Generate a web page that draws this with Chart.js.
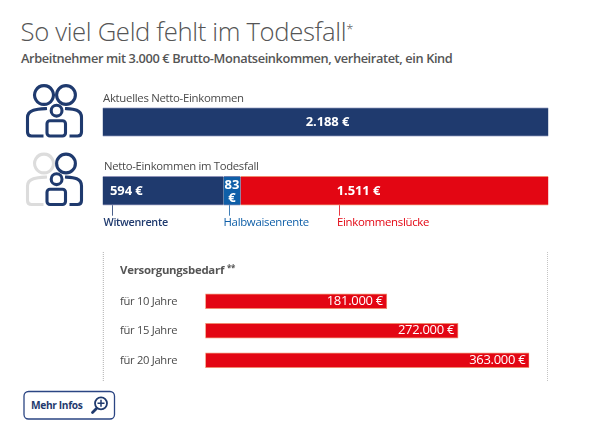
<!DOCTYPE html>
<html lang="de"><head><meta charset="utf-8">
<script src="https://cdn.jsdelivr.net/npm/chart.js@4"></script>
<style>
html,body{margin:0;padding:0;background:#fff;width:600px;height:432px;overflow:hidden}
#wrap{position:relative;width:600px;height:432px;font-family:"Open Sans",sans-serif}
canvas{position:absolute;left:0;top:0}
.t{position:absolute;white-space:nowrap;line-height:1}
svg{position:absolute;left:0;top:0}
</style></head><body>
<div id="wrap">
<div class="t" style="left:20.500px;top:18.500px;font-size:25.700px;font-weight:300;color:#555;letter-spacing:-.35px">So viel Geld fehlt im Todesfall<sup style="font-size:13px;vertical-align:7px;line-height:0">*</sup></div>
<div class="t" style="left:21px;top:51.500px;font-size:12.800px;font-weight:600;color:#555;letter-spacing:-.39px">Arbeitnehmer mit 3.000 € Brutto-Monatseinkommen, verheiratet, ein Kind</div>
<svg width="600" height="432" fill="none">
 <defs>
  <g id="kid" stroke="#1f3a6e" stroke-width="3.100">
   <circle cx="56.600" cy="110.700" r="5.400"/><rect x="47" y="120.700" width="18.500" height="15.300" rx="3"/>
   <circle cx="66" cy="95" r="9.400"/><path d="M65 108.500c8 .5 16.500 .5 16.500 9v14.500c0 2.500-1.500 4-4 4h-8"/>
  </g>
  <path id="adult" stroke-width="3.100" d="M44 85.600a9.400 9.400 0 1 0 .01 0M47 108.500c-8 .5-19.500 .5-19.500 9v14.500c0 2.500 1.500 4 4 4h12"/>
 </defs>
 <use href="#adult" stroke="#1f3a6e"/><use href="#kid"/>
 <use href="#adult" stroke="#dcdcdc" y="68.500"/><use href="#kid" y="68.500"/>
 <line x1="103.300" y1="252" x2="103.300" y2="382" stroke="#b0b0b0" stroke-dasharray="1 1"/>
 <line x1="547.500" y1="252" x2="547.500" y2="382" stroke="#c4c4c4" stroke-dasharray="1 1"/>
 <rect x="24" y="391.500" width="90.500" height="27.500" rx="4.500" stroke="#2b4583" stroke-width="1.300"/>
 <circle cx="101" cy="403.300" r="6" stroke="#1f3a6e" stroke-width="1.800"/>
 <path d="M97.500 403.300h7M101 399.800v7" stroke="#1f3a6e" stroke-width="1.500"/>
 <path d="M96.500 408.500l-4 4" stroke="#1f3a6e" stroke-width="2.800" stroke-linecap="round"/>
</svg>
<div class="t" style="left:31px;top:400px;font-size:10.200px;font-weight:700;color:#1f3a6e;letter-spacing:-.35px">Mehr Infos</div>
<canvas id="top" width="600" height="432"></canvas>
<canvas id="bottom" width="600" height="432"></canvas>
</div>
<script>
// Data
const incomeRows = ["Aktuelles Netto-Einkommen", "Netto-Einkommen im Todesfall"];
const current = [2188, null];
const widow = [null, 594];
const orphan = [null, 83];
const gap = [null, 1511];
const needLabels = ["für 10 Jahre", "für 15 Jahre", "für 20 Jahre"];
const needValues = [181000, 272000, 363000];
const needTitle = "Versorgungsbedarf";
const needTitleMark = "**";
const needAxisMin = -51000;

const font = '"Open Sans",sans-serif';
const euro = v => v.toLocaleString('de-DE') + ' €';
function txt(c, s, x, y, f, col, align, sp) {
  c.font = f + ' ' + font; c.fillStyle = col; c.textAlign = align || 'left';
  c.textBaseline = 'middle'; c.letterSpacing = (sp === undefined ? -0.3 : sp) + 'px';
  c.fillText(s, x, y);
}
const topLabels = {
  id: 'topLabels',
  afterDatasetsDraw(ch) {
    const c = ch.ctx, x = ch.scales.x, y = ch.scales.y;
    const y0 = y.getPixelForValue(0), y1 = y.getPixelForValue(1);
    const s = 'bold 13px';
    c.save();
    txt(c, incomeRows[0], x.left + .5, y0 - 23.500, '11.400px', '#4a4a4a', 'left');
    txt(c, incomeRows[1], x.left + 1.500, y1 - 23.500, '11.300px', '#4a4a4a', 'left');
    txt(c, euro(current[0]), x.getPixelForValue(current[0] / 2) + 2, y0 + .5, s, '#fff', 'center', -.1);
    txt(c, euro(widow[1]), x.left + 7.500, y1 + .5, s, '#fff', 'left', -.1);
    const oc = x.getPixelForValue(widow[1] + orphan[1] / 2);
    txt(c, String(orphan[1]), oc, y1 - 5.500, s, '#fff', 'center', 0);
    txt(c, '€', oc, y1 + 7.500, s, '#fff', 'center', 0);
    txt(c, euro(gap[1]), x.getPixelForValue(widow[1] + orphan[1] + gap[1] * .383), y1 + .5, s, '#fff', 'center', -.1);
    const ly = y1 + 32, marks = [
      [x.left + 9, '#1f3a6e', 'Witwenrente', x.left + 1, 600, 10.800],
      [oc - 3, '#0f5fa8', 'Halbwaisenrente', 223.500, 400, 11.400],
      [x.getPixelForValue(widow[1] + orphan[1] + gap[1] * .32), '#e30613', 'Einkommenslücke', 337, 400, 11.400]
    ];
    for (const [mx, col, name, tx, w, sz] of marks) {
      c.strokeStyle = col; c.lineWidth = 1; c.globalAlpha = .8;
      c.beginPath(); c.moveTo(Math.round(mx) + .5, y1 + 14.500); c.lineTo(Math.round(mx) + .5, y1 + 25); c.stroke();
      c.globalAlpha = 1;
      txt(c, name, tx, ly, w + ' ' + sz + 'px', col, 'left');
    }
    c.restore();
  }
};
const needText = {
  id: 'needText',
  afterDatasetsDraw(ch) {
    const c = ch.ctx, x = ch.scales.x, y = ch.scales.y;
    c.save();
    txt(c, needTitle, 120, 270.500, 'bold 11.400px', '#555', 'left', -.25);
    txt(c, needTitleMark, 227, 269, 'bold 8px', '#555', 'left', -.3);
    needValues.forEach((v, i) => {
      const py = y.getPixelForValue(i);
      txt(c, needLabels[i], 120, py + .5, '11.200px', '#4a4a4a', 'left');
      txt(c, euro(v), x.getPixelForValue(v) - 4, py, '13px', '#fff', 'right', -.3);
    });
    c.restore();
  }
};
const hBorder = { top: 1, bottom: 1, left: 0, right: 0 };
const seg = (label, data, bg, bc) => ({ label, data, backgroundColor: bg, borderColor: bc, borderWidth: hBorder, borderSkipped: false, categoryPercentage: 1, barThickness: 28.800 });
const quiet = { animation: false, responsive: false, devicePixelRatio: 1, events: [], indexAxis: 'y' };
new Chart(document.getElementById('top'), {
  type: 'bar',
  data: { labels: incomeRows, datasets: [
    seg('Aktuelles Netto-Einkommen', current, '#1f3a6e', '#b9bdd6'),
    seg('Witwenrente', widow, '#1f3a6e', '#8f93b8'),
    seg('Halbwaisenrente', orphan, '#0f5fa8', '#6d7fb0'),
    seg('Einkommenslücke', gap, '#e30613', '#f08a70')
  ]},
  options: { ...quiet,
    layout: { padding: { left: 102.500, right: 51.500, top: 87.650, bottom: 206.950 } },
    plugins: { legend: { display: false }, title: { display: false }, tooltip: { enabled: false } },
    scales: {
      x: { stacked: true, display: false, min: 0, max: 2188 },
      y: { stacked: true, display: false }
    }
  },
  plugins: [topLabels]
});
new Chart(document.getElementById('bottom'), {
  type: 'bar',
  data: { labels: needLabels, datasets: [{
    label: 'Versorgungsbedarf', data: needValues, base: needAxisMin,
    backgroundColor: '#e30613', borderColor: '#f08a70', borderWidth: 1, borderSkipped: false,
    categoryPercentage: 1, barThickness: 14.800
  }]},
  options: { ...quiet,
    layout: { padding: { left: 205.300, right: 70.700, top: 286.600, bottom: 57.100 } },
    plugins: { legend: { display: false }, title: { display: false }, tooltip: { enabled: false } },
    scales: {
      x: { display: false, min: needAxisMin, max: 363000 },
      y: { display: false }
    }
  },
  plugins: [needText]
});
</script>
</body></html>
